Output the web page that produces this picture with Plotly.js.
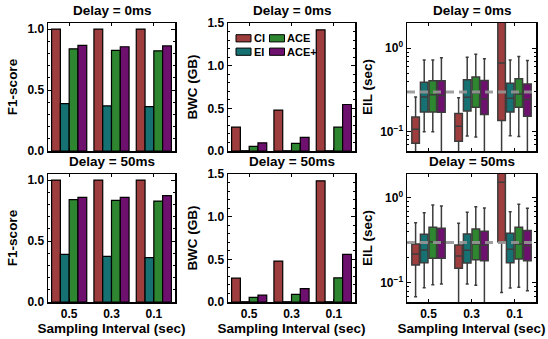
<!DOCTYPE html>
<html>
<head>
<meta charset="utf-8">
<script src="https://cdn.plot.ly/plotly-3.0.1.min.js"></script>
<style>html,body{margin:0;padding:0;background:#fff;}#chart{width:548px;height:339px;}</style>
</head>
<body>
<div id="chart"></div>
<script>
// ---------- data ----------
var categories = ['0.5', '0.3', '0.1'];
var seriesNames = ['CI', 'EI', 'ACE', 'ACE+'];
var seriesColors = ['#9e3d3d', '#167272', '#2e8630', '#6e106e'];

// F1-score
var f1TopCI = [1.0, 1.0, 1.0];
var f1TopEI = [0.388, 0.370, 0.364];
var f1TopACE = [0.838, 0.826, 0.822];
var f1TopACEp = [0.866, 0.855, 0.862];
var f1BotCI = [1.0, 1.0, 1.0];
var f1BotEI = [0.390, 0.375, 0.364];
var f1BotACE = [0.840, 0.833, 0.828];
var f1BotACEp = [0.858, 0.858, 0.872];

// BWC (GB)
var bwcTopCI = [0.28, 0.48, 1.42];
var bwcTopEI = [0.003, 0.003, 0.003];
var bwcTopACE = [0.055, 0.090, 0.280];
var bwcTopACEp = [0.095, 0.160, 0.545];
var bwcBotCI = [0.28, 0.48, 1.42];
var bwcBotEI = [0.003, 0.003, 0.003];
var bwcBotACE = [0.055, 0.090, 0.283];
var bwcBotACEp = [0.080, 0.157, 0.557];

// EIL (sec) box statistics, delay 0ms
var eilTopCI_q1 = [0.073, 0.077, 0.137], eilTopCI_med = [0.107, 0.117, 0.663], eilTopCI_q3 = [0.150, 0.166, 3.0], eilTopCI_lo = [0.03, 0.03, 0.03], eilTopCI_hi = [0.260, 0.256, 6.0];
var eilTopEI_q1 = [0.173, 0.178, 0.173], eilTopEI_med = [0.260, 0.259, 0.252], eilTopEI_q3 = [0.392, 0.420, 0.382], eilTopEI_lo = [0.100, 0.089, 0.090], eilTopEI_hi = [0.720, 0.780, 0.720];
var eilTopACE_q1 = [0.173, 0.197, 0.197], eilTopACE_med = [0.278, 0.291, 0.284], eilTopACE_q3 = [0.409, 0.452, 0.431], eilTopACE_lo = [0.100, 0.087, 0.088], eilTopACE_hi = [0.720, 0.848, 0.796];
var eilTopACEp_q1 = [0.172, 0.161, 0.154], eilTopACEp_med = [0.272, 0.247, 0.244], eilTopACEp_q3 = [0.409, 0.410, 0.373], eilTopACEp_lo = [0.03, 0.03, 0.03], eilTopACEp_hi = [0.767, 0.746, 0.710];
// EIL (sec) box statistics, delay 50ms
var eilBotCI_q1 = [0.163, 0.149, 0.306], eilBotCI_med = [0.219, 0.208, 1.53], eilBotCI_q3 = [0.288, 0.280, 3.0], eilBotCI_lo = [0.069, 0.03, 0.077], eilBotCI_hi = [0.510, 0.504, 6.0];
var eilBotEI_q1 = [0.173, 0.172, 0.173], eilBotEI_med = [0.245, 0.242, 0.249], eilBotEI_q3 = [0.375, 0.377, 0.384], eilBotEI_lo = [0.088, 0.097, 0.087], eilBotEI_hi = [0.672, 0.678, 0.690];
var eilBotACE_q1 = [0.195, 0.188, 0.191], eilBotACE_med = [0.306, 0.288, 0.288], eilBotACE_q3 = [0.452, 0.432, 0.452], eilBotACE_lo = [0.095, 0.094, 0.089], eilBotACE_hi = [0.828, 0.791, 0.842];
var eilBotACEp_q1 = [0.195, 0.183, 0.183], eilBotACEp_med = [0.306, 0.277, 0.275], eilBotACEp_q3 = [0.440, 0.405, 0.413], eilBotACEp_lo = [0.097, 0.03, 0.081], eilBotACEp_hi = [0.805, 0.762, 0.756];

var eilReference = 0.3;

var panelTitles = ['Delay = 0ms', 'Delay = 50ms'];
var yTitles = ['F1-score', 'BWC (GB)', 'EIL (sec)'];
var xTitle = 'Sampling Interval (sec)';

// ---------- build ----------
var FONT = 'Liberation Sans, Arial, Helvetica, sans-serif';
var traces = [];

function addBars(vals, xa, ya) {
  for (var i = 0; i < 4; i++) {
    traces.push({
      type: 'bar', x: categories, y: vals[i], xaxis: xa, yaxis: ya,
      name: seriesNames[i],
      marker: {color: seriesColors[i], line: {color: '#000', width: 1.2}},
      showlegend: false, hoverinfo: 'skip'
    });
  }
}
addBars([f1TopCI, f1TopEI, f1TopACE, f1TopACEp], 'x', 'y');
addBars([bwcTopCI, bwcTopEI, bwcTopACE, bwcTopACEp], 'x2', 'y2');
addBars([f1BotCI, f1BotEI, f1BotACE, f1BotACEp], 'x4', 'y4');
addBars([bwcBotCI, bwcBotEI, bwcBotACE, bwcBotACEp], 'x5', 'y5');

function addBoxes(stats, xa, ya) {
  for (var i = 0; i < 4; i++) {
    var s = stats[i];
    traces.push({
      type: 'box', x: categories, xaxis: xa, yaxis: ya,
      q1: s[0], median: s[1], q3: s[2], lowerfence: s[3], upperfence: s[4],
      name: seriesNames[i], showlegend: false,
      alignmentgroup: 'ag_' + xa, offsetgroup: 'og_' + xa + '_' + i,
      fillcolor: seriesColors[i],
      line: {color: '#3c3c3c', width: 1.5},
      whiskerwidth: 0.4, boxpoints: false, hoverinfo: 'skip'
    });
  }
}
addBoxes([
  [eilTopCI_q1, eilTopCI_med, eilTopCI_q3, eilTopCI_lo, eilTopCI_hi],
  [eilTopEI_q1, eilTopEI_med, eilTopEI_q3, eilTopEI_lo, eilTopEI_hi],
  [eilTopACE_q1, eilTopACE_med, eilTopACE_q3, eilTopACE_lo, eilTopACE_hi],
  [eilTopACEp_q1, eilTopACEp_med, eilTopACEp_q3, eilTopACEp_lo, eilTopACEp_hi]
], 'x3', 'y3');
addBoxes([
  [eilBotCI_q1, eilBotCI_med, eilBotCI_q3, eilBotCI_lo, eilBotCI_hi],
  [eilBotEI_q1, eilBotEI_med, eilBotEI_q3, eilBotEI_lo, eilBotEI_hi],
  [eilBotACE_q1, eilBotACE_med, eilBotACE_q3, eilBotACE_lo, eilBotACE_hi],
  [eilBotACEp_q1, eilBotACEp_med, eilBotACEp_q3, eilBotACEp_lo, eilBotACEp_hi]
], 'x6', 'y6');

var W = 548, H = 339;
var colX = [[48, 175], [228, 355], [407, 536]];
var rowY = [[23, 151], [174, 302]];
function dx(c) { return [colX[c][0] / W, colX[c][1] / W]; }
function dy(r) { return [1 - rowY[r][1] / H, 1 - rowY[r][0] / H]; }

var tickFont = {family: FONT, size: 12, color: '#000', weight: 'bold'};
var titleFont = {family: FONT, size: 13.5, color: '#000', weight: 'bold'};

function xAxis(c, r, anchor) {
  var ax = {
    domain: dx(c), anchor: anchor, type: 'category', range: [-0.5, 2.5],
    showticklabels: r === 1, tickfont: tickFont,
    ticks: 'inside', ticklen: 3, tickwidth: 1, tickcolor: '#000',
    showline: true, linecolor: '#000', linewidth: 1.5, mirror: 'ticks',
    showgrid: false, zeroline: false, fixedrange: true
  };
  if (r === 1) ax.title = {text: xTitle, font: titleFont, standoff: 2};
  return ax;
}
function yLin(c, r, anchor, range, dtick, minorDt) {
  return {
    domain: dy(r), anchor: anchor, range: range, dtick: dtick, tick0: 0,
    tickformat: '.1f', tickfont: tickFont,
    ticks: 'inside', ticklen: 4, tickwidth: 1, tickcolor: '#000',
    minor: {dtick: minorDt, ticks: 'inside', ticklen: 2, tickcolor: '#000', showgrid: false},
    showline: true, linecolor: '#000', linewidth: 1.5, mirror: 'allticks',
    showgrid: false, zeroline: false, fixedrange: true,
    title: {text: yTitles[c], font: titleFont, standoff: 6}
  };
}
function yLog(r, anchor, range) {
  return {
    domain: dy(r), anchor: anchor, type: 'log', range: range,
    tickmode: 'array', tickvals: [0.1, 1], ticktext: ['10<sup>\u22121</sup>', '10<sup>0</sup>'],
    tickfont: tickFont,
    ticks: 'inside', ticklen: 4, tickwidth: 1, tickcolor: '#000',
    minor: {tickmode: 'array', tickvals: [0.06, 0.07, 0.08, 0.09, 0.2, 0.3, 0.4, 0.5, 0.6, 0.7, 0.8, 0.9, 2],
            ticks: 'inside', ticklen: 2, tickcolor: '#000', showgrid: false},
    showline: true, linecolor: '#000', linewidth: 1.5, mirror: 'allticks',
    showgrid: false, zeroline: false, fixedrange: true,
    title: {text: yTitles[2], font: titleFont, standoff: 4}
  };
}

var annotations = [];
for (var r = 0; r < 2; r++) {
  for (var c = 0; c < 3; c++) {
    annotations.push({
      text: panelTitles[r], showarrow: false, font: titleFont,
      xref: 'paper', yref: 'paper',
      x: (colX[c][0] + colX[c][1]) / 2 / W, y: 1 - (rowY[r][0] - 3) / H,
      xanchor: 'center', yanchor: 'bottom'
    });
  }
}

var shapes = [];
['y3', 'y6'].forEach(function (ya, k) {
  shapes.push({
    type: 'line', xref: (k === 0 ? 'x3' : 'x6') + ' domain', yref: ya,
    x0: 0, x1: 1, y0: eilReference, y1: eilReference,
    line: {color: 'rgba(150,150,150,0.9)', width: 3, dash: '8px,5px'}, layer: 'above'
  });
});

// Legend (2 columns: CI / EI, ACE / ACE+) inside the top BWC panel
var legendFont = {family: FONT, size: 11, color: '#000', weight: 'bold'};
var legCols = [236, 269.5];       // swatch left edge (px)
var legRows = [38.3, 51.7];       // row centre (px)
for (var i = 0; i < 4; i++) {
  var col = (i === 0 || i === 1) ? 0 : 1;
  var row = (i === 0 || i === 2) ? 0 : 1;
  var x0 = legCols[col], yc = legRows[row];
  shapes.push({
    type: 'rect', xref: 'paper', yref: 'paper',
    x0: x0 / W, x1: (x0 + 15) / W, y0: 1 - (yc + 3.6) / H, y1: 1 - (yc - 3.6) / H,
    fillcolor: seriesColors[i], line: {color: '#000', width: 1}, layer: 'above'
  });
  annotations.push({
    text: seriesNames[i], showarrow: false, font: legendFont,
    xref: 'paper', yref: 'paper', x: (x0 + 16.5) / W, y: 1 - yc / H,
    xanchor: 'left', yanchor: 'middle', borderpad: 0
  });
}

var layout = {
  width: W, height: H, margin: {l: 0, r: 0, t: 0, b: 0},
  paper_bgcolor: '#fff', plot_bgcolor: '#fff', showlegend: false,
  barmode: 'group', bargap: 0.17, bargroupgap: 0,
  boxmode: 'group', boxgap: 0.2, boxgroupgap: 0.12,
  font: {family: FONT, color: '#000'},
  xaxis: xAxis(0, 0, 'y'), yaxis: yLin(0, 0, 'x', [0, 1.05], 0.5, 0.1),
  xaxis2: xAxis(1, 0, 'y2'), yaxis2: yLin(1, 0, 'x2', [0, 1.5], 0.5, 0.1),
  xaxis3: xAxis(2, 0, 'y3'), yaxis3: yLog(0, 'x3', [Math.log10(0.059), Math.log10(2.0)]),
  xaxis4: xAxis(0, 1, 'y4'), yaxis4: yLin(0, 1, 'x4', [0, 1.05], 0.5, 0.1),
  xaxis5: xAxis(1, 1, 'y5'), yaxis5: yLin(1, 1, 'x5', [0, 1.5], 0.5, 0.1),
  xaxis6: xAxis(2, 1, 'y6'), yaxis6: yLog(1, 'x6', [Math.log10(0.0597), Math.log10(1.915)]),
  annotations: annotations, shapes: shapes
};

Plotly.newPlot('chart', traces, layout, {displayModeBar: false, staticPlot: true});
</script>
</body>
</html>
